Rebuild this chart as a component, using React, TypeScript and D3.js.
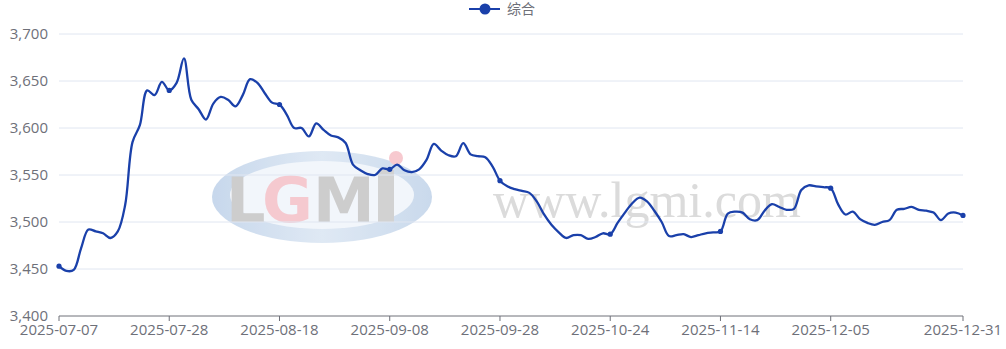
import React from "react";
import * as d3 from "d3";

const dates: string[] = [
  "2025-07-07","2025-07-08","2025-07-09","2025-07-10","2025-07-11","2025-07-14","2025-07-15","2025-07-16","2025-07-17","2025-07-18",
  "2025-07-21","2025-07-22","2025-07-23","2025-07-24","2025-07-25","2025-07-28","2025-07-29","2025-07-30","2025-07-31","2025-08-01",
  "2025-08-04","2025-08-05","2025-08-06","2025-08-07","2025-08-08","2025-08-11","2025-08-12","2025-08-13","2025-08-14","2025-08-15",
  "2025-08-18","2025-08-19","2025-08-20","2025-08-21","2025-08-22","2025-08-25","2025-08-26","2025-08-27","2025-08-28","2025-08-29",
  "2025-09-01","2025-09-02","2025-09-03","2025-09-04","2025-09-05","2025-09-08","2025-09-09","2025-09-10","2025-09-11","2025-09-12",
  "2025-09-15","2025-09-16","2025-09-17","2025-09-18","2025-09-19","2025-09-22","2025-09-23","2025-09-24","2025-09-25","2025-09-26",
  "2025-09-28","2025-09-29","2025-09-30","2025-10-09","2025-10-10","2025-10-11","2025-10-13","2025-10-14","2025-10-15","2025-10-16",
  "2025-10-17","2025-10-20","2025-10-21","2025-10-22","2025-10-23","2025-10-24","2025-10-27","2025-10-28","2025-10-29","2025-10-30",
  "2025-10-31","2025-11-03","2025-11-04","2025-11-05","2025-11-06","2025-11-07","2025-11-10","2025-11-11","2025-11-12","2025-11-13",
  "2025-11-14","2025-11-17","2025-11-18","2025-11-19","2025-11-20","2025-11-21","2025-11-24","2025-11-25","2025-11-26","2025-11-27",
  "2025-11-28","2025-12-01","2025-12-02","2025-12-03","2025-12-04","2025-12-05","2025-12-08","2025-12-09","2025-12-10","2025-12-11",
  "2025-12-12","2025-12-15","2025-12-16","2025-12-17","2025-12-18","2025-12-19","2025-12-22","2025-12-23","2025-12-24","2025-12-25",
  "2025-12-26","2025-12-29","2025-12-30","2025-12-31",
];

const values: number[] = [
  3453, 3448, 3449, 3472, 3492, 3490, 3488, 3483, 3490, 3518,
  3585, 3603, 3640, 3635, 3649, 3640, 3648, 3674, 3630, 3620,
  3609, 3626, 3633, 3630, 3623, 3635, 3652, 3648, 3637, 3627,
  3625, 3614, 3600, 3600, 3591, 3605, 3598, 3592, 3590, 3584,
  3561, 3555, 3551, 3550, 3557, 3556, 3561, 3555, 3553, 3556,
  3566, 3583, 3576, 3571, 3570, 3584, 3572, 3570, 3569, 3559,
  3544, 3538, 3535, 3533, 3531, 3522, 3508, 3497, 3489, 3483,
  3486, 3486, 3482, 3484, 3488, 3487, 3499, 3510, 3520, 3526,
  3522, 3512, 3500, 3485, 3486, 3487, 3484, 3486, 3488, 3489,
  3490, 3509, 3511, 3510, 3503, 3502, 3512, 3519, 3516, 3513,
  3514, 3534, 3539, 3538, 3537, 3536, 3519, 3508, 3511, 3503,
  3499, 3497, 3500, 3502, 3513, 3514, 3516, 3513, 3512, 3510,
  3502, 3509, 3510, 3507,
];

const xTickLabels: string[] = [
  "2025-07-07","2025-07-28","2025-08-18","2025-09-08","2025-09-28",
  "2025-10-24","2025-11-14","2025-12-05","2025-12-31",
];
const yTicks: number[] = [3400, 3450, 3500, 3550, 3600, 3650, 3700];
const seriesName = "综合";

const W = 1006, H = 349;
const M = { left: 59, right: 43, top: 34, bottom: 33 };
const LINE = "#1a40aa";
const TEXT = "#6e7079";
const FONT = "'Open Sans', 'Noto Sans', sans-serif";

export default function App() {
  const x = d3.scalePoint<string>().domain(dates).range([M.left, W - M.right]);
  const y = d3.scaleLinear().domain([3400, 3700]).range([H - M.bottom, M.top]);
  const pts = dates.map((d, i) => [x(d) as number, y(values[i])] as [number, number]);
  const line = d3.line<[number, number]>().x(p => p[0]).y(p => p[1]).curve(d3.curveCatmullRom.alpha(0.5));
  const fmt = d3.format(",");
  const markIdx = dates.map((d, i) => i).filter(i => xTickLabels.includes(dates[i]));

  return (
    <svg width={W} height={H} style={{ position: "absolute", left: 0, top: 0, background: "#fff" }}>
      {/* watermark */}
      <g opacity={0.75}>
        <defs>
          <linearGradient id="wmg" x1="0" x2="1" y1="0" y2="0">
            <stop offset="0" stopColor="#b5cbe6" />
            <stop offset="0.5" stopColor="#d5e2f1" />
            <stop offset="1" stopColor="#b8cde6" />
          </linearGradient>
        </defs>
        <ellipse cx={322} cy={197} rx={110} ry={46} fill="url(#wmg)" />
        <ellipse cx={322} cy={195} rx={92} ry={34} fill="#eef3fa" />
        <text x={226} y={222} fontFamily="'DejaVu Sans', sans-serif" fontWeight="bold" fontSize={62} fill="#bdbdbd" letterSpacing={-4}>L</text>
        <text x={262} y={222} fontFamily="'DejaVu Sans', sans-serif" fontWeight="bold" fontSize={62} fill="#f2b8c0" letterSpacing={-4}>G</text>
        <text x={313} y={222} fontFamily="'DejaVu Sans', sans-serif" fontWeight="bold" fontSize={62} fill="#bdbdbd">M</text>
        <rect x={378} y={170} width={16} height={52} fill="#c4c4c4" />
        <circle cx={396} cy={158} r={7} fill="#f5b8c0" />
        <text x={493} y={217} fontFamily="'Liberation Serif', 'DejaVu Serif', serif" fontSize={50} fill="#cfcfcf">www.lgmi.com</text>
      </g>

      {/* grid */}
      {yTicks.map(t => (
        <g key={t}>
          {t !== 3400 && <line x1={M.left} x2={W - M.right} y1={y(t)} y2={y(t)} stroke="#e0e6f1" strokeWidth={1} />}
          <text x={M.left - 11} y={y(t)} dy="0.35em" textAnchor="end" fontFamily={FONT} fontSize={15} fill={TEXT}>{fmt(t)}</text>
        </g>
      ))}

      {/* x axis */}
      <line x1={M.left} x2={W - M.right} y1={y(3400)} y2={y(3400)} stroke={TEXT} strokeWidth={1} />
      {xTickLabels.map(d => (
        <g key={d}>
          <line x1={x(d)} x2={x(d)} y1={y(3400)} y2={y(3400) + 5} stroke={TEXT} />
          <text x={x(d)} y={y(3400) + 19} textAnchor="middle" fontFamily={FONT} fontSize={15} fill={TEXT}>{d}</text>
        </g>
      ))}

      {/* line */}
      <path d={line(pts) || ""} fill="none" stroke={LINE} strokeWidth={2.3} strokeLinejoin="round" />
      {markIdx.map(i => (
        <circle key={i} cx={pts[i][0]} cy={pts[i][1]} r={2.6} fill={LINE} />
      ))}

      {/* legend */}
      <line x1={469} x2={500} y1={9} y2={9} stroke={LINE} strokeWidth={2} />
      <circle cx={485} cy={9} r={5.5} fill={LINE} />
      <text x={507} y={9} dy="0.35em" fontFamily="'Noto Sans CJK SC', sans-serif" fontSize={14} fill={TEXT}>{seriesName}</text>
    </svg>
  );
}
